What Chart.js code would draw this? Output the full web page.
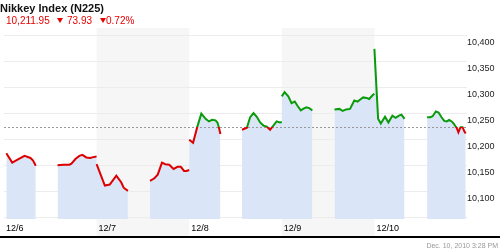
<!DOCTYPE html>
<html>
<head>
<meta charset="utf-8">
<script src="https://cdn.jsdelivr.net/npm/chart.js@4"></script>
<style>
  html, body { margin: 0; padding: 0; background: #fff; }
  #wrap { position: relative; width: 500px; height: 250px; overflow: hidden; font-family: "Liberation Sans", Arial, sans-serif; }
  #chart { position: absolute; left: 0; top: 0; }
  .title { position: absolute; left: 0; top: 2px; font-size: 11px; font-weight: bold; color: #111; line-height: 13px; white-space: nowrap; }
  .quote { position: absolute; top: 14.5px; font-size: 10px; color: #e60000; line-height: 12px; white-space: nowrap; }
  .down { position: absolute; top: 18px; width: 0; height: 0; border-left: 3px solid transparent; border-right: 3px solid transparent; border-top: 5px solid #e60000; }
  .stamp { position: absolute; right: 2px; top: 241px; font-size: 7px; color: #999; line-height: 9px; white-space: nowrap; }
</style>
</head>
<body>
<div id="wrap">
  <canvas id="chart" width="500" height="250"></canvas>
  <div class="title">Nikkey Index (N225)</div>
  <span class="quote" style="left:6px">10,211.95</span>
  <span class="down" style="left:57px"></span>
  <span class="quote" style="left:67px">73.93</span>
  <span class="down" style="left:100px"></span>
  <span class="quote" style="left:106px">0.72%</span>
  <div class="stamp">Dec. 10, 2010 3:28 PM</div>
</div>
<script>
// ticks on the time axis (one per day)
const dayLabels = ["12/6", "12/7", "12/8", "12/9", "12/10"];
const shadedDays = [1, 3];
const prevClose = 10225;
const maxGap = 0.15; // wider than this (in days) = no trading in between

// time in days since the first tick; a repeated time is the jump at a day change
const times = [
  0.025, 0.089, 0.161, 0.222, 0.286, 0.314, 0.343,
  0.578, 0.642, 0.707, 0.728, 0.771, 0.814, 0.846, 0.889, 0.931, 0.974, 1.000,
  1.000, 1.089, 1.142, 1.213, 1.267, 1.292, 1.338,
  1.577, 1.624, 1.660, 1.706, 1.742, 1.785, 1.831, 1.874, 1.909, 1.945, 1.970, 2.000,
  2.000, 2.042, 2.088, 2.131, 2.177, 2.213, 2.248, 2.284, 2.305, 2.320, 2.337,
  2.570, 2.623, 2.658, 2.695, 2.730, 2.766, 2.802, 2.837, 2.873, 2.909, 2.944, 2.980, 3.000,
  3.000, 3.030, 3.070, 3.105, 3.140, 3.169, 3.205, 3.230, 3.266, 3.301, 3.330,
  3.569, 3.622, 3.658, 3.694, 3.737, 3.783, 3.819, 3.854, 3.879, 3.915, 3.943, 3.980, 4.000,
  4.000, 4.040, 4.069, 4.115, 4.151, 4.194, 4.229, 4.265, 4.293, 4.325,
  4.569, 4.604, 4.629, 4.663, 4.693, 4.725, 4.754, 4.781, 4.807, 4.834, 4.855, 4.890, 4.907, 4.930, 4.952, 4.971, 4.986
];
const prices = [
  10174, 10156, 10163, 10169, 10165, 10160, 10150,
  10151, 10152, 10152, 10154, 10163, 10169, 10171, 10166, 10165, 10167, 10168,
  10153, 10112, 10114, 10131, 10118, 10108, 10102,
  10121, 10126, 10133, 10156, 10153, 10152, 10144, 10148, 10148, 10140, 10140, 10142,
  10200, 10194, 10225, 10250, 10240, 10235, 10238, 10237, 10233, 10224, 10211,
  10219, 10223, 10243, 10251, 10244, 10233, 10227, 10225, 10219, 10227, 10235, 10233, 10234,
  10283, 10291, 10283, 10270, 10273, 10265, 10256, 10259, 10262, 10260, 10256,
  10258, 10259, 10255, 10258, 10259, 10275, 10273, 10278, 10281, 10280, 10278, 10285, 10288,
  10374, 10240, 10231, 10244, 10233, 10246, 10242, 10246, 10248, 10240,
  10243, 10243, 10245, 10254, 10252, 10243, 10236, 10235, 10238, 10235, 10231, 10222, 10214, 10224, 10224, 10216, 10211.95
];

const green = "#0a9a0a";
const red = "#dc0000";
const font = { family: "'Liberation Sans', Arial, sans-serif", size: 9 };

const points = times.map((t, i) => ({ x: t, y: prices[i] }));

// green above the previous close, red below it
function lineColour(context) {
  const chart = context.chart;
  const area = chart.chartArea;
  if (!area) return red;
  const y = chart.scales.y.getPixelForValue(prevClose);
  let split = (y - area.top) / (area.bottom - area.top);
  split = Math.min(1, Math.max(0, split));
  const g = chart.ctx.createLinearGradient(0, area.top, 0, area.bottom);
  g.addColorStop(0, green);
  g.addColorStop(split, green);
  g.addColorStop(split, red);
  g.addColorStop(1, red);
  return g;
}

// hide the day-change jumps and the overnight gaps
function hiddenSegment(c) {
  const dx = c.p1.parsed.x - c.p0.parsed.x;
  return dx === 0 || dx > maxGap ? "rgba(0,0,0,0)" : undefined;
}

const backdrop = {
  id: "backdrop",
  beforeDraw(chart) {
    const { ctx, chartArea, scales } = chart;
    const x = scales.x;
    ctx.save();
    ctx.fillStyle = "#f6f6f6";
    shadedDays.forEach(d => {
      const l = x.getPixelForValue(d);
      const r = x.getPixelForValue(d + 1);
      ctx.fillRect(l, chartArea.top, r - l, x.bottom - chartArea.top);
    });
    ctx.restore();
  },
  afterDatasetDraw(chart, args) {
    if (args.index !== 1) return;
    const { ctx, chartArea, scales } = chart;
    const y = Math.round(scales.y.getPixelForValue(prevClose)) + 0.5;
    ctx.save();
    ctx.strokeStyle = "#999";
    ctx.lineWidth = 1;
    ctx.setLineDash([2, 2]);
    ctx.beginPath();
    ctx.moveTo(chartArea.left, y);
    ctx.lineTo(chartArea.right, y);
    ctx.stroke();
    ctx.restore();
  },
  afterDraw(chart) {
    const { ctx, scales } = chart;
    ctx.save();
    ctx.fillStyle = "#000";
    ctx.fillRect(0, scales.x.bottom, chart.width, 2);
    ctx.restore();
  }
};

new Chart(document.getElementById("chart"), {
  type: "line",
  data: {
    datasets: [
      {
        data: points,
        borderColor: lineColour,
        borderWidth: 2,
        pointRadius: 0,
        fill: false,
        spanGaps: maxGap,
        order: 0,
        segment: { borderColor: hiddenSegment }
      },
      {
        data: points,
        borderColor: "rgba(0,0,0,0)",
        borderWidth: 0,
        backgroundColor: "#dae6f8",
        pointRadius: 0,
        fill: "start",
        spanGaps: maxGap,
        order: 1
      }
    ]
  },
  options: {
    responsive: false,
    animation: false,
    layout: { padding: { top: 28, bottom: 14, left: 0, right: 0 } },
    plugins: { legend: { display: false }, tooltip: { enabled: false } },
    scales: {
      x: {
        type: "linear",
        min: 0,
        max: 5,
        afterFit: s => { s.height = 17; },
        afterBuildTicks: s => { s.ticks = dayLabels.map((_, i) => ({ value: i })); },
        grid: { display: false, drawTicks: false },
        border: { display: false },
        ticks: {
          autoSkip: false,
          maxRotation: 0,
          align: "start",
          padding: 4,
          labelOffset: 2,
          color: "#000",
          font: font,
          callback: v => dayLabels[v]
        }
      },
      y: {
        position: "right",
        min: 10048,
        max: 10414,
        afterFit: s => { s.width = 33; },
        border: { display: false },
        grid: { color: "#ececec", drawTicks: false },
        ticks: {
          stepSize: 50,
          includeBounds: false,
          padding: 0,
          labelOffset: 7,
          color: "#222",
          font: font,
          callback: v => (v < 10100 ? "" : v.toLocaleString("en-US"))
        }
      }
    }
  },
  plugins: [backdrop]
});
</script>
</body>
</html>
